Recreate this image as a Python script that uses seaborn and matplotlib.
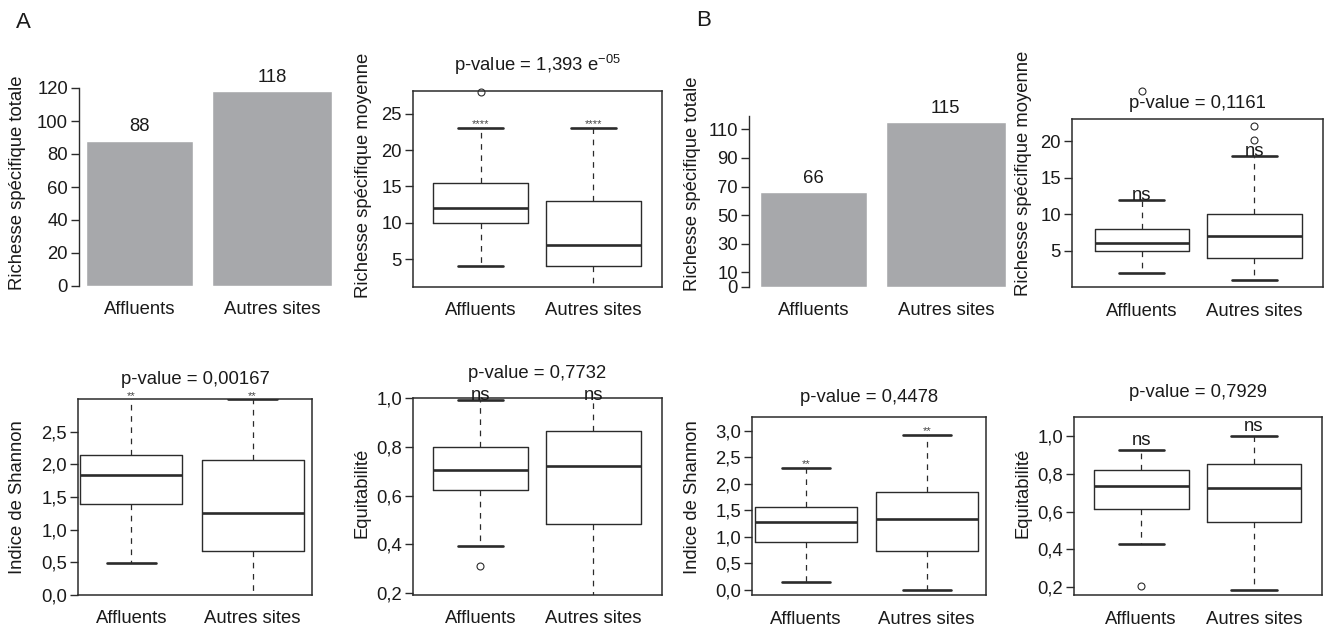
import matplotlib
matplotlib.use("Agg")
import matplotlib.pyplot as plt
import seaborn as sns

# categories
sites = ["Affluents", "Autres sites"]

# total species richness (bar charts)
totale_A = [88, 118]
totale_B = [66, 115]

# five-number summaries per site: [whisker low, Q1, median, Q3, whisker high]
moyenne_A = [[4, 10, 12, 15.5, 23], [1, 4, 7, 13, 23]]
moyenne_B = [[2, 5, 6, 8, 12], [1, 4, 7, 10, 18]]
shannon_A = [[0.49, 1.40, 1.84, 2.15, 3.05], [-0.02, 0.67, 1.26, 2.07, 3.0]]
shannon_B = [[0.15, 0.90, 1.28, 1.57, 2.30], [0.0, 0.73, 1.33, 1.84, 2.92]]
equit_A = [[0.394, 0.623, 0.703, 0.80, 0.993], [0.18, 0.483, 0.722, 0.863, 1.01]]
equit_B = [[0.427, 0.615, 0.733, 0.820, 0.924], [0.184, 0.543, 0.725, 0.849, 1.0]]

# outliers
moyenne_A_out = [[28], []]
moyenne_B_out = [[26.9], [20.2, 22.05]]
shannon_A_out = [[], []]
shannon_B_out = [[], []]
equit_A_out = [[0.309], []]
equit_B_out = [[0.207], []]

# significance marks and p-values
moyenne_A_sig = ["****", "****"]
moyenne_B_sig = ["ns", "ns"]
shannon_A_sig = ["**", "**"]
shannon_B_sig = ["**", "**"]
equit_A_sig = ["ns", "ns"]
equit_B_sig = ["ns", "ns"]
pvalues = {
    "moyenne_A": "p-value = 1,393 e$\\mathregular{^{-05}}$",
    "moyenne_B": "p-value = 0,1161",
    "shannon_A": "p-value = 0,00167",
    "shannon_B": "p-value = 0,4478",
    "equit_A": "p-value = 0,7732",
    "equit_B": "p-value = 0,7929",
}

# tick values
ticks_totale_A = [0, 20, 40, 60, 80, 100, 120]
ticks_totale_B = [0, 10, 30, 50, 70, 90, 110]
ticks_moyenne_A = [5, 10, 15, 20, 25]
ticks_moyenne_B = [5, 10, 15, 20]
ticks_shannon_A = [0.0, 0.5, 1.0, 1.5, 2.0, 2.5]
ticks_shannon_B = [0.0, 0.5, 1.0, 1.5, 2.0, 2.5, 3.0]
ticks_equit = [0.2, 0.4, 0.6, 0.8, 1.0]

sns.set_style("white")
plt.rcParams["font.family"] = ["Liberation Sans", "DejaVu Sans"]
TXT = "#1a1a1a"
plt.rcParams.update({"text.color": TXT, "axes.labelcolor": TXT,
                     "xtick.color": TXT, "ytick.color": TXT})

W, H = 1327, 630
fig = plt.figure(figsize=(W / 100, H / 100), dpi=100)
FS = 13.3
EDGE = "#2b2b2b"
BAR = "#a7a8ab"


def add_ax(l, t, r, b):
    return fig.add_axes([l / W, 1 - b / H, (r - l) / W, (b - t) / H])


def fr(v):
    return f"{v:.1f}".replace(".", ",")


def bar_panel(ax, values, yticks, ytop, xlim, widths, ylabel, label_y):
    sns.barplot(x=sites, y=values, color=BAR, saturation=1, ax=ax, width=0.85)
    for p, w in zip(ax.patches, widths):
        c = p.get_x() + p.get_width() / 2
        p.set_width(w)
        p.set_x(c - w / 2)
    ax.bar_label(ax.containers[0], padding=4, fontsize=FS)
    ax.set_ylim(0, ytop)
    ax.set_xlim(*xlim)
    ax.set_yticks(yticks)
    ax.set_yticklabels([str(t) for t in yticks])
    for s in ["top", "right", "bottom"]:
        ax.spines[s].set_visible(False)
    ax.spines["left"].set_bounds(0, max(yticks) if ytop > 119.5 else ytop)
    ax.spines["left"].set_color(EDGE)
    ax.spines["left"].set_linewidth(1.0)
    ax.tick_params(axis="y", direction="out", length=6, width=1, pad=2,
                   labelsize=FS, left=True, color=EDGE)
    ax.tick_params(axis="x", length=0, pad=11, labelsize=FS)
    ax.set_xlabel("")
    ax.set_ylabel(ylabel, fontsize=FS, va="center")
    ax.yaxis.set_label_coords(label_y[0], label_y[1])


def box_panel(ax, summ, outs, sig, pval, ylim, xlim, yticks, ylabel, label_y,
              title_px, sig_px, sig_fs, sig_at_top=False):
    stats = []
    for s, o, name in zip(summ, outs, sites):
        stats.append(dict(whislo=s[0], q1=s[1], med=s[2], q3=s[3], whishi=s[4],
                          fliers=o, label=name))
    art = ax.bxp(stats, positions=[1, 2], widths=0.84, capwidths=0.4,
                 patch_artist=False,
                 boxprops=dict(color=EDGE, linewidth=1.0),
                 whiskerprops=dict(color=EDGE, linewidth=0.9, linestyle=(0, (4.5, 4.5))),
                 capprops=dict(color=EDGE, linewidth=1.9),
                 medianprops=dict(color=EDGE, linewidth=1.9),
                 flierprops=dict(marker="o", markerfacecolor="none",
                                 markeredgecolor=EDGE, markersize=5, markeredgewidth=0.8))
    for fl in art["fliers"]:
        fl.set_clip_on(False)
    ax.set_ylim(*ylim)
    ax.set_xlim(*xlim)
    ax.set_yticks(yticks)
    if isinstance(yticks[0], float):
        ax.set_yticklabels([fr(t) for t in yticks])
    else:
        ax.set_yticklabels([str(t) for t in yticks])
    for s in ax.spines.values():
        s.set_visible(True)
        s.set_color(EDGE)
        s.set_linewidth(1.1)
    ax.tick_params(axis="y", direction="out", length=6, width=1, pad=2,
                   labelsize=FS, left=True, color=EDGE)
    ax.tick_params(axis="x", length=0, pad=11, labelsize=FS)
    ax.set_ylabel(ylabel, fontsize=FS, va="center")
    ax.yaxis.set_label_coords(label_y[0], label_y[1])
    ax.annotate(pval, xy=(0.5, 1), xycoords="axes fraction",
                xytext=(0, title_px * 0.72), textcoords="offset points",
                ha="center", va="center", fontsize=FS)
    for i, (s, txt) in enumerate(zip(summ, sig)):
        y = ylim[1] if sig_at_top else s[4]
        ax.annotate(txt, xy=(i + 1, y), xycoords="data",
                    xytext=(0, sig_px * 0.72), textcoords="offset points",
                    ha="center", va="baseline", fontsize=sig_fs,
                    color="#444444" if "*" in txt else TXT,
                    annotation_clip=False)


# ---- panel A ----
ax1 = add_ax(79, 88, 340, 286)
bar_panel(ax1, totale_A, ticks_totale_A, 120, (-0.457, 1.513), [0.81, 0.905],
          "Richesse spécifique totale", (-0.235, 0.52))

ax2 = add_ax(413, 91, 662, 287)
box_panel(ax2, moyenne_A, moyenne_A_out, moyenne_A_sig, pvalues["moyenne_A"],
          (1.14, 28.17), (0.4, 2.61), ticks_moyenne_A,
          "Richesse spécifique moyenne", (-0.2, 0.57), 26, 1, 8)

ax3 = add_ax(78, 399, 312, 595)
box_panel(ax3, shannon_A, shannon_A_out, shannon_A_sig, pvalues["shannon_A"],
          (0, 3.0), (0.56, 2.49), ticks_shannon_A,
          "Indice de Shannon", (-0.257, 0.497), 19.5, 0, 8, sig_at_top=True)

ax4 = add_ax(413, 398, 662, 595)
box_panel(ax4, equit_A, equit_A_out, equit_A_sig, pvalues["equit_A"],
          (0.192, 1.0), (0.404, 2.606), ticks_equit,
          "Equitabilité", (-0.205, 0.519), 25, -2, FS, sig_at_top=True)

# ---- panel B ----
ax5 = add_ax(749, 116.4, 1012, 286.7)
bar_panel(ax5, totale_B, ticks_totale_B, 119, (-0.485, 1.5), [0.81, 0.905],
          "Richesse spécifique totale", (-0.213, 0.607))

ax6 = add_ax(1072, 119.3, 1323, 287.3)
box_panel(ax6, moyenne_B, moyenne_B_out, moyenne_B_sig, pvalues["moyenne_B"],
          (0, 23), (0.38, 2.61), ticks_moyenne_B,
          "Richesse spécifique moyenne", (-0.195, 0.68), 16, 0, FS)

ax7 = add_ax(752, 417, 986, 595.3)
box_panel(ax7, shannon_B, shannon_B_out, shannon_B_sig, pvalues["shannon_B"],
          (-0.1, 3.26), (0.556, 2.49), ticks_shannon_B,
          "Indice de Shannon", (-0.253, 0.549), 19.7, 1, 8)

ax8 = add_ax(1074, 417, 1322, 595.3)
box_panel(ax8, equit_B, equit_B_out, equit_B_sig, pvalues["equit_B"],
          (0.158, 1.099), (0.404, 2.603), ticks_equit,
          "Equitabilité", (-0.206, 0.574), 24.3, 5, FS)

fig.text(23 / W, 1 - 22 / H, "A", fontsize=16, ha="center", va="center")
fig.text(704 / W, 1 - 20 / H, "B", fontsize=16, ha="center", va="center")

fig.savefig("out.png", dpi=100)
